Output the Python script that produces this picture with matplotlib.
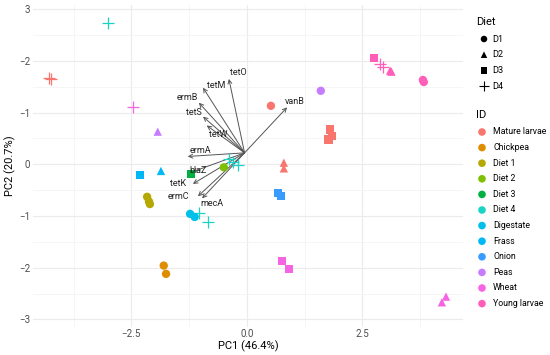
import numpy as np
import matplotlib
import matplotlib.pyplot as plt

matplotlib.use("Agg")
plt.rcParams['font.family'] = ['Roboto', 'DejaVu Sans']

# sample scores
ids = (["Mature larvae"] * 8 + ["Chickpea"] * 2 + ["Diet 1"] * 3 + ["Diet 2"] + ["Diet 3"]
       + ["Diet 4"] * 6 + ["Digestate"] * 2 + ["Frass"] * 2 + ["Onion"] * 2 + ["Peas"] * 2
       + ["Wheat"] * 5 + ["Young larvae"] * 7)
diets = (["D4", "D4", "D1", "D3", "D3", "D3", "D2", "D2"] + ["D1", "D1"] + ["D1"] * 3 + ["D1"] + ["D3"]
         + ["D4"] * 6 + ["D1", "D1"] + ["D2", "D3"] + ["D3", "D3"] + ["D2", "D1"]
         + ["D4", "D3", "D3", "D2", "D2"] + ["D3", "D4", "D4", "D2", "D2", "D1", "D1"])
pc1 = [-4.29, -4.24, 0.52, 1.80, 1.84, 1.77, 0.80, 0.80,
       -1.80, -1.75,
       -2.16, -2.10, -2.12,
       -0.50,
       -1.21,
       -3.01, -1.04, -0.84, -0.39, -0.30, -0.19,
       -1.23, -1.13,
       -1.86, -2.32,
       0.67, 0.74,
       -1.93, 1.60,
       -2.47, 0.76, 0.91, 4.31, 4.22,
       2.75, 2.88, 2.94, 3.10, 3.13, 3.81, 3.83]
pc2 = [1.67, 1.64, 1.13, 0.67, 0.54, 0.48, 0.03, -0.08,
       -1.96, -2.12,
       -0.63, -0.77, -0.72,
       -0.06,
       -0.19,
       2.73, -0.94, -1.12, 0.10, 0.04, -0.02,
       -0.96, -1.02,
       -0.13, -0.21,
       -0.56, -0.62,
       0.63, 1.42,
       1.10, -1.87, -2.02, -2.56, -2.67,
       2.06, 1.94, 1.88, 1.81, 1.79, 1.63, 1.59]

# loadings
genes = ["tetO", "tetM", "ermB", "tetS", "tetW", "ermA", "blaZ", "tetK", "ermC", "mecA", "vanB"]
load1 = [-0.39, -0.95, -1.04, -0.95, -0.87, -1.28, -1.19, -1.17, -1.06, -0.97, 0.87]
load2 = [1.65, 1.48, 1.19, 0.92, 0.75, 0.15, -0.15, -0.38, -0.62, -0.66, 1.10]
lab1 = [-0.19, -0.67, -1.28, -1.15, -0.63, -1.00, -1.06, -1.49, -1.49, -0.76, 1.04]
lab2 = [1.77, 1.52, 1.29, 1.00, 0.58, 0.27, -0.13, -0.38, -0.62, -0.75, 1.21]

id_levels = ["Mature larvae", "Chickpea", "Diet 1", "Diet 2", "Diet 3", "Diet 4",
             "Digestate", "Frass", "Onion", "Peas", "Wheat", "Young larvae"]
id_colors = ["#F8766D", "#DE8C00", "#B5A800", "#7CC000", "#00B140", "#19D3C5",
             "#00BFE8", "#00B8F5", "#3A9BFF", "#C77CFF", "#F564E3", "#FF5FB8"]
diet_levels = ["D1", "D2", "D3", "D4"]
diet_markers = ["o", "^", "s", "+"]

yticks = [3, 2, 1, 0, -1, -2, -3]
ytick_labels = ["3", "\u22122", "\u22121", "0", "\u22121", "\u22122", "\u22123"]
xticks = [-2.5, 0.0, 2.5]
xtick_labels = ["\u22122.5", "0.0", "2.5"]

col = dict(zip(id_levels, id_colors))
mk = dict(zip(diet_levels, diet_markers))

fig = plt.figure(figsize=(5.5, 3.55), dpi=100)
ax = fig.add_axes([0.06, 0.08, 0.782, 0.906])

for sp in ax.spines.values():
    sp.set_visible(False)
ax.set_xlim(-4.63, 4.68)
ax.set_ylim(-3.14, 3.08)
ax.set_xticks(xticks)
ax.set_xticklabels(xtick_labels)
ax.set_yticks(yticks)
ax.set_yticklabels(ytick_labels)
ax.set_xticks([-3.75, -1.25, 1.25, 3.75], minor=True)
ax.set_yticks([2.5, 1.5, 0.5, -0.5, -1.5, -2.5], minor=True)
ax.grid(True, which='major', color='#ebebeb', lw=0.8)
ax.grid(True, which='minor', color='#f4f4f4', lw=0.6)
ax.tick_params(which='both', length=0, labelsize=7, colors='#4d4d4d', pad=2)
ax.set_axisbelow(True)
ax.set_xlabel("PC1 (46.4%)", fontsize=8, labelpad=1)
ax.set_ylabel("PC2 (20.7%)", fontsize=8, labelpad=2)

for x, y, i, d in zip(pc1, pc2, ids, diets):
    if d == "D4":
        ax.scatter(x, y, marker="+", s=85, color=col[i], linewidths=0.9, zorder=3)
    else:
        ax.scatter(x, y, marker=mk[d], s=36, color=col[i], edgecolors='none', zorder=3)

ox, oy = -0.05, 0.22
for g, a, b, tx, ty in zip(genes, load1, load2, lab1, lab2):
    ax.annotate("", xy=(a, b), xytext=(ox, oy),
                arrowprops=dict(arrowstyle="->", color="#555555", lw=0.7,
                                mutation_scale=7, shrinkA=0, shrinkB=0), zorder=2)
    ax.text(tx, ty, g, fontsize=6.5, color='#222222', ha='center', va='center', zorder=4)

# legends drawn in pixel coordinates
lax = fig.add_axes([0, 0, 1, 1])
lax.set_xlim(0, 550)
lax.set_ylim(355, 0)
lax.axis('off')
lax.text(476, 22, "Diet", fontsize=8, va='center', ha='left')
for k, (d, m) in enumerate(zip(diet_levels, diet_markers)):
    yy = 39 + k * 15.7
    if m == "+":
        lax.scatter(484, yy, marker=m, s=45, color='black', linewidths=0.8)
    else:
        lax.scatter(484, yy, marker=m, s=22, color='black', edgecolors='none')
    lax.text(492, yy, d, fontsize=6.6, va='center', ha='left')
lax.text(476, 115, "ID", fontsize=8, va='center', ha='left')
for k, (i, c) in enumerate(zip(id_levels, id_colors)):
    yy = 132 + k * 15.6
    lax.scatter(482, yy, marker='o', s=30, color=c, edgecolors='none')
    lax.text(493, yy, i, fontsize=6.3, va='center', ha='left')

fig.savefig("out.png", dpi=100)
